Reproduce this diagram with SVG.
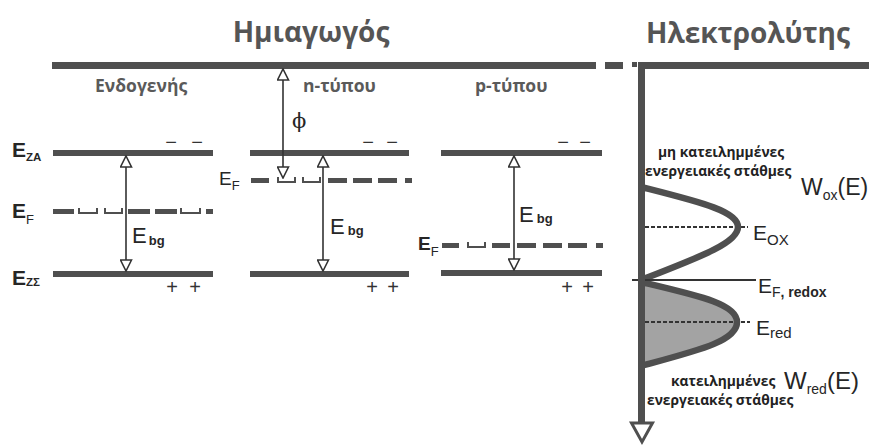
<svg xmlns="http://www.w3.org/2000/svg" width="869" height="446" viewBox="0 0 869 446">
  <style>
    .bar { fill: #4f4f4f; }
    .dash { fill: #4f4f4f; }
    .cup { fill: none; stroke: #4f4f4f; stroke-width: 2; }
    .title { font-family: "Open Sans", "Liberation Sans", sans-serif; font-weight: 700; font-size: 28px; fill: #555; }
    .sub { font-family: "Open Sans", "Liberation Sans", sans-serif; font-weight: 700; font-size: 17.5px; fill: #5a5a5a; }
    .note { font-family: "Open Sans", "Liberation Sans", sans-serif; font-weight: 700; font-size: 13.8px; fill: #222; }
    .lbl { font-family: "Liberation Sans", Arial, sans-serif; font-size: 20px; fill: #262626; }
    .lblb { font-family: "Liberation Sans", Arial, sans-serif; font-size: 21px; font-weight: 700; fill: #262626; }
    .ss { font-size: 11.5px; font-weight: 700; }
    .sr { font-size: 13px; font-weight: 400; }
    .sgn { font-family: "Liberation Sans", Arial, sans-serif; font-size: 20px; fill: #333; text-anchor: middle; }
    .shaft { stroke: #333; stroke-width: 1.6; fill: none; }
    .curve { fill: none; stroke: #4f4f4f; stroke-width: 6.5; stroke-linejoin: round; }
    .thin { stroke: #333; stroke-width: 1.8; fill: none; }
    .dotted { stroke: #333; stroke-width: 1.8; stroke-dasharray: 4 2; fill: none; }
  </style>
  <defs>
    <marker id="tri" viewBox="0 0 13 13" refX="12" refY="6.5" markerWidth="13" markerHeight="13" markerUnits="userSpaceOnUse" orient="auto-start-reverse">
      <path d="M1,1 L12,6.5 L1,12 Z" fill="#fff" stroke="#333" stroke-width="1.6" stroke-linejoin="miter"/>
    </marker>
  </defs>

  <rect width="869" height="446" fill="#fff"/>

  <!-- headings -->
  <g id="heading-semiconductor">
    <text class="title" x="311" y="42" text-anchor="middle">Ημιαγωγός</text>
  </g>
  <g id="heading-electrolyte">
    <text class="title" x="748" y="43" text-anchor="middle">Ηλεκτρολύτης</text>
  </g>

  <!-- vacuum level across the top -->
  <g id="vacuum-level">
    <rect class="bar" x="52" y="62" width="544" height="7"/>
    <rect class="bar" x="605" y="62" width="18" height="7"/>
    <rect class="bar" x="632" y="62" width="5" height="5"/>
    <rect class="bar" x="638" y="62" width="231" height="7"/>
  </g>

  <!-- intrinsic semiconductor -->
  <g id="intrinsic">
    <text class="sub" x="95" y="92">Ενδογενής</text>
    <rect class="bar" x="53" y="150" width="160" height="6"/>
    <rect class="bar" x="53" y="271" width="160" height="6"/>
    <g>
      <rect class="dash" x="53" y="209" width="21" height="5"/>
      <path class="cup" d="M79,208 V213 H97 V208"/>
      <path class="cup" d="M105,208 V213 H122 V208"/>
      <rect class="dash" x="128" y="209" width="22" height="5"/>
      <rect class="dash" x="155" y="209" width="22" height="5"/>
      <path class="cup" d="M181,208 V213 H200 V208"/>
      <rect class="dash" x="206" y="209" width="7" height="5"/>
    </g>
    <text class="lblb" x="12" y="157">E<tspan class="ss" dy="4">ZA</tspan></text>
    <text class="lblb" x="12" y="218">E<tspan class="sr" dy="6">F</tspan></text>
    <text class="lblb" x="12" y="285">E<tspan class="ss" dy="1">ZΣ</tspan></text>
    <text class="lbl" x="132" y="243" style="font-size:22px">E<tspan class="ss" dx="2" dy="2" style="font-size:13px">bg</tspan></text>
    <text class="sgn" x="171" y="149">−</text>
    <text class="sgn" x="197" y="149">−</text>
    <text class="sgn" x="172" y="294">+</text>
    <text class="sgn" x="195" y="294">+</text>
  </g>

  <!-- n-type semiconductor -->
  <g id="n-type">
    <text class="sub" x="303" y="92">n-τύπου</text>
    <rect class="bar" x="250" y="150" width="159" height="6"/>
    <rect class="bar" x="250" y="271" width="159" height="6"/>
    <g>
      <rect class="dash" x="251" y="178" width="18" height="5"/>
      <path class="cup" d="M278,177 V182 H295 V177"/>
      <path class="cup" d="M303,177 V182 H320 V177"/>
      <rect class="dash" x="328" y="178" width="19" height="5"/>
      <rect class="dash" x="353" y="178" width="19" height="5"/>
      <rect class="dash" x="378" y="178" width="19" height="5"/>
      <rect class="dash" x="405" y="178" width="7" height="5"/>
    </g>
    <text class="lbl" x="219" y="185" style="font-size:19px">E<tspan class="sr" dy="5">F</tspan></text>
    <text x="292" y="128" style="font-family:'DejaVu Serif','Liberation Serif',serif;font-size:21px;fill:#262626">ϕ</text>
    <text class="lbl" x="330" y="234" style="font-size:22px">E<tspan class="ss" dx="3" dy="1" style="font-size:13px">bg</tspan></text>
    <text class="sgn" x="368" y="149">−</text>
    <text class="sgn" x="392" y="149">−</text>
    <text class="sgn" x="372" y="294">+</text>
    <text class="sgn" x="393" y="294">+</text>
  </g>

  <!-- p-type semiconductor -->
  <g id="p-type">
    <text class="sub" x="475" y="92">p-τύπου</text>
    <rect class="bar" x="441" y="150" width="161" height="6"/>
    <rect class="bar" x="441" y="270" width="161" height="6"/>
    <g>
      <rect class="dash" x="442" y="243" width="17" height="5"/>
      <path class="cup" d="M468,242 V247 H485 V242"/>
      <rect class="dash" x="492" y="243" width="18" height="5"/>
      <rect class="dash" x="517" y="243" width="19" height="5"/>
      <rect class="dash" x="543" y="243" width="19" height="5"/>
      <rect class="dash" x="568" y="243" width="19" height="5"/>
      <rect class="dash" x="596" y="243" width="7" height="5"/>
    </g>
    <text class="lblb" x="418" y="250" style="font-size:19px">E<tspan class="sr" dy="6">F</tspan></text>
    <text class="lbl" x="519" y="222" style="font-size:22px">E<tspan class="ss" dx="3" dy="1" style="font-size:13px">bg</tspan></text>
    <text class="sgn" x="563" y="149">−</text>
    <text class="sgn" x="585" y="149">−</text>
    <text class="sgn" x="567" y="294">+</text>
    <text class="sgn" x="588" y="294">+</text>
  </g>

  <!-- electrolyte: density of states -->
  <g id="electrolyte">
    <path d="M641,282 C700,296 737,304 737,322 C737,341 700,350 641,366 Z" fill="#a3a3a3"/>
    <line class="dotted" x1="645" y1="227" x2="748" y2="227"/>
    <line class="dotted" x1="645" y1="322" x2="750" y2="322"/>
    <path class="curve" d="M641,187 C700,202 738,211 738,227 C738,243 700,257 641,280"/>
    <path class="curve" d="M641,282 C700,296 737,304 737,322 C737,341 700,350 641,366"/>
    <line class="thin" x1="632" y1="280" x2="756" y2="280"/>
    <rect class="bar" x="638" y="62" width="7" height="362"/>
    <polygon points="631.5,423 652.5,423 642,442" fill="#fff" stroke="#4f4f4f" stroke-width="3" stroke-linejoin="miter"/>
    <text class="note" x="658" y="157">μη κατειλημμένες</text>
    <text class="note" x="645" y="176">ενεργειακές στάθμες</text>
    <text class="lbl" x="801" y="195" style="font-size:23px">W<tspan class="sr" dy="5" style="font-size:14px">ox</tspan><tspan dy="-5">(E)</tspan></text>
    <text class="lbl" x="753" y="240" style="font-size:21px">E<tspan class="sr" dy="5" style="font-size:15px">OX</tspan></text>
    <text class="lbl" x="758" y="293" style="font-size:21px">E<tspan class="sr" dy="4" style="font-size:14px">F</tspan><tspan style="font-size:14px;font-weight:700">, redox</tspan></text>
    <text class="lbl" x="756" y="335" style="font-size:21px">E<tspan class="sr" dy="3" style="font-size:15px">red</tspan></text>
    <text class="note" x="671" y="386">κατειλημμένες</text>
    <text class="note" x="647" y="405">ενεργειακές στάθμες</text>
    <text class="lbl" x="784" y="389" style="font-size:24px">W<tspan class="sr" dy="5" style="font-size:14px">red</tspan><tspan dy="-5">(E)</tspan></text>
  </g>

  <!-- connectors: work function and band-gap arrows -->
  <g id="connectors">
    <line class="shaft" x1="126" y1="156" x2="126" y2="271" marker-start="url(#tri)" marker-end="url(#tri)"/>
    <line class="shaft" x1="323" y1="156" x2="323" y2="271" marker-start="url(#tri)" marker-end="url(#tri)"/>
    <line class="shaft" x1="514" y1="156" x2="514" y2="270" marker-start="url(#tri)" marker-end="url(#tri)"/>
    <line class="shaft" x1="283" y1="69" x2="283" y2="178" marker-start="url(#tri)" marker-end="url(#tri)"/>
  </g>
</svg>
